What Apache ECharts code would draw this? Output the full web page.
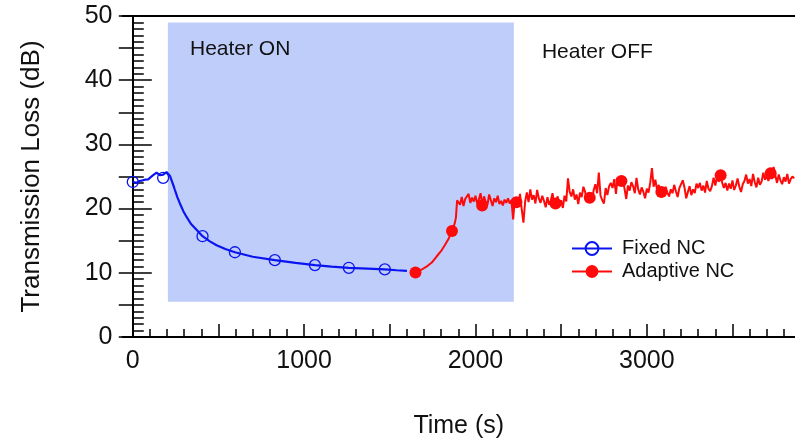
<!DOCTYPE html>
<html>
<head>
<meta charset="utf-8">
<script src="https://cdn.jsdelivr.net/npm/echarts@6/dist/echarts.min.js"></script>
<style>
  html, body { margin: 0; padding: 0; background: #fff; }
  #chart { width: 795px; height: 441px; }
</style>
</head>
<body>
<div id="chart"></div>
<script>
// Fixed NC trace (time s, loss dB)
var fixedT = [0, 20, 40, 52, 70, 90, 105, 119, 130, 139, 150, 158, 168, 178, 187, 197, 207, 217, 226, 236, 246, 260, 275, 295, 314, 340, 372, 407, 450, 489, 540, 596, 700, 829, 950, 1063, 1160, 1261, 1370, 1471, 1540, 1600];
var fixedLoss = [24.2, 24.0, 24.3, 24.35, 24.5, 24.56, 24.9, 25.2, 25.0, 25.6, 25.3, 25.2, 25.5, 25.3, 25.6, 25.7, 25.4, 25.1, 24.45, 23.7, 22.9, 21.8, 20.8, 19.6, 18.7, 17.6, 16.7, 15.7, 14.9, 14.3, 13.7, 13.2, 12.5, 11.97, 11.55, 11.2, 10.95, 10.78, 10.65, 10.53, 10.4, 10.3];
var fixedMarkT = [0, 177, 407, 596, 829, 1063, 1261, 1471];
var fixedMarkLoss = [24.15, 24.8, 15.7, 13.2, 11.97, 11.2, 10.78, 10.53];

// Adaptive NC trace: recovery part, then the noisy steady part sampled every 10 s
var adaptiveT = [1645, 1650, 1680, 1714, 1745, 1772, 1800, 1821, 1845, 1863, 1879, 1886, 1889, 1893];
var adaptiveLoss = [10.0, 10.07, 10.4, 10.95, 11.6, 12.5, 13.4, 14.3, 15.4, 16.55, 17.7, 18.6, 19.8, 21.3];
var noiseStart = 1900;
var noiseStep = 10;
var adaptiveNoise = [
  21.0, 20.6, 21.8, 20.4, 21.5, 21.2, 22.3, 20.9, 21.7, 21.1,
  22.0, 20.8, 21.4, 22.4, 20.5, 21.9, 21.0, 20.6, 22.2, 21.3,
  20.4, 21.6, 21.0, 22.0, 20.7, 21.2, 20.5, 21.4, 20.9, 21.6,
  20.8, 21.3, 18.3, 21.7, 21.0, 20.4, 22.3, 19.9, 17.8, 21.1,
  22.5, 21.0, 23.0, 21.4, 22.1, 20.8, 22.9, 21.6, 20.9, 22.0,
  21.2, 20.2, 21.8, 20.6, 21.3, 22.4, 20.5, 21.0, 21.9, 20.4,
  21.3, 20.1, 22.0, 21.1, 24.7, 22.6, 21.9, 23.0, 21.4, 22.2,
  20.7, 22.5, 21.8, 23.4, 22.6, 21.0, 21.7, 22.3, 21.2, 22.9,
  23.8, 22.4, 25.6, 22.0, 21.3, 20.8, 23.2, 22.1, 23.5, 24.0,
  23.2, 24.6, 22.3, 24.9, 23.8, 24.2, 24.6, 23.1, 21.5, 23.6,
  22.8, 24.1, 23.5, 22.4, 24.8, 23.0, 22.2, 23.3, 22.6, 21.6,
  23.1, 22.5, 24.0, 26.3, 23.4, 24.5, 22.9, 23.7, 22.3, 22.8,
  22.0, 23.4, 22.5, 21.9, 23.0, 22.4, 23.7, 22.7, 21.8, 23.2,
  22.9, 24.4, 23.3, 21.6, 22.6, 23.5, 22.1, 23.0, 22.4, 23.9,
  23.2, 24.0, 22.8, 23.6, 22.5, 24.3, 23.1, 22.7, 23.5, 24.8,
  23.6, 25.0, 24.2, 24.9, 24.6, 23.2, 24.0, 22.8, 23.9, 23.1,
  24.4, 22.9, 23.6, 24.7, 23.4, 22.6, 23.8, 24.3, 25.3, 23.9,
  24.6, 23.5, 25.4, 24.1, 23.3, 24.8, 23.7, 24.2, 25.6, 24.5,
  25.1, 24.3, 25.8, 24.6, 26.5, 25.2, 24.0, 25.3, 24.4, 23.8,
  24.9, 24.2, 25.4, 23.9, 24.6, 25.0, 24.7
];
var adaptiveMarkT = [1650, 1863, 2039, 2239, 2467, 2667, 2852, 3085, 3431, 3723];
var adaptiveMarkLoss = [10.06, 16.5, 20.5, 21.0, 20.8, 21.7, 24.3, 22.6, 25.2, 25.5];

// heater period and labels
var heaterOn = [205, 2224];
var heaterBand = [5.5, 49];
var notes = [
  { name: "Heater ON", t: 334, loss: 44.9 },
  { name: "Heater OFF", t: 2388, loss: 44.4 }
];

var xMajor = [0, 500, 1000, 1500, 2000, 2500, 3000, 3500];
var xLabels = [0, 1000, 2000, 3000];
var xMinor = [];
for (var m = 0; m <= 3800; m += 100) xMinor.push(m);

function pairs(xs, ys) {
  return xs.map(function (x, i) { return [x, ys[i]]; });
}

var fixedData = pairs(fixedT, fixedLoss);
var adaptiveData = pairs(adaptiveT, adaptiveLoss);
adaptiveNoise.forEach(function (v, i) {
  adaptiveData.push([noiseStart + i * noiseStep, v]);
});

var BLUE = "#0a14f0";
var RED = "#ff0a0a";
var font = "'Liberation Sans', Arial, sans-serif";

var chart = echarts.init(document.getElementById("chart"), null, { renderer: "canvas" });

var option = {
  backgroundColor: "#fff",
  animation: false,
  grid: { left: 122.5, right: 0, top: 16, bottom: 104, containLabel: false, outerBoundsMode: "none" },
  legend: {
    data: ["Fixed NC", "Adaptive NC"],
    orient: "vertical",
    left: 566,
    top: 232,
    itemWidth: 40,
    itemHeight: 16,
    itemGap: 0,
    textStyle: { fontFamily: font, fontSize: 20, color: "#111", lineHeight: 23, padding: [0, 0, 0, 5] }
  },
  xAxis: [{
    type: "value",
    min: -60,
    max: 3865,
    position: "bottom",
    name: "Time (s)",
    nameLocation: "middle",
    nameGap: 77,
    nameTextStyle: { fontFamily: font, fontSize: 25, color: "#111" },
    axisLine: { lineStyle: { color: "#000", width: 2 } },
    axisTick: { inside: true, length: 13, customValues: xMajor, lineStyle: { color: "#000", width: 1.5 } },
    axisLabel: {
      customValues: xLabels, margin: 12, fontFamily: font, fontSize: 25, color: "#111",
      formatter: function (v) { return String(v); }
    },
    splitLine: { show: false }
  }, {
    type: "value",
    min: -60,
    max: 3865,
    position: "bottom",
    axisLine: { show: false },
    axisTick: { inside: true, length: 8, customValues: xMinor, lineStyle: { color: "#000", width: 1.5 } },
    axisLabel: { show: false },
    splitLine: { show: false }
  }, {
    type: "value",
    min: -60,
    max: 3865,
    position: "top",
    axisLine: { lineStyle: { color: "#000", width: 2 } },
    axisTick: { show: false },
    axisLabel: { show: false },
    splitLine: { show: false }
  }],
  yAxis: [{
    type: "value",
    min: 0,
    max: 50,
    interval: 10,
    name: "Transmission Loss (dB)",
    nameLocation: "middle",
    nameGap: 78,
    nameTextStyle: { fontFamily: font, fontSize: 26, color: "#111" },
    axisLine: { show: true, lineStyle: { color: "#000", width: 2 } },
    axisTick: { inside: true, length: 19, lineStyle: { color: "#000", width: 1.5 } },
    minorTick: { show: true, splitNumber: 10, length: 11, lineStyle: { color: "#000", width: 1.5 } },
    axisLabel: { margin: 10, fontFamily: font, fontSize: 25, color: "#111" },
    splitLine: { show: false }
  }, {
    type: "value",
    min: 0,
    max: 50,
    interval: 5,
    axisLine: { show: false },
    axisTick: { inside: true, length: 14, lineStyle: { color: "#000", width: 1.5 } },
    axisLabel: { show: false },
    splitLine: { show: false }
  }],
  series: [{
    name: "Fixed NC",
    type: "line",
    data: fixedData,
    showSymbol: false,
    symbol: "circle",
    symbolSize: 11,
    itemStyle: { color: "transparent", borderColor: BLUE, borderWidth: 1.3 },
    lineStyle: { color: BLUE, width: 2.2 },
    z: 3,
    markArea: {
      silent: true,
      itemStyle: { color: "#bfcdfb" },
      data: [[{ xAxis: heaterOn[0], yAxis: heaterBand[0] }, { xAxis: heaterOn[1], yAxis: heaterBand[1] }]]
    },
    markPoint: {
      silent: true,
      symbol: "circle",
      symbolSize: 0,
      label: {
        show: true, position: "right", distance: 0, formatter: "{b}",
        fontFamily: font, fontSize: 21, color: "#111"
      },
      data: notes.map(function (n) { return { name: n.name, coord: [n.t, n.loss] }; })
    }
  }, {
    type: "scatter",
    data: pairs(fixedMarkT, fixedMarkLoss),
    symbol: "circle",
    symbolSize: 11,
    itemStyle: { color: "transparent", borderColor: BLUE, borderWidth: 1.3, opacity: 1 },
    z: 4
  }, {
    name: "Adaptive NC",
    type: "line",
    data: adaptiveData,
    showSymbol: false,
    symbol: "circle",
    symbolSize: 12,
    itemStyle: { color: RED },
    lineStyle: { color: RED, width: 2 },
    z: 3
  }, {
    type: "scatter",
    data: pairs(adaptiveMarkT, adaptiveMarkLoss),
    symbol: "circle",
    symbolSize: 12,
    itemStyle: { color: RED, opacity: 1 },
    z: 4
  }]
};

chart.setOption(option);
</script>
</body>
</html>
